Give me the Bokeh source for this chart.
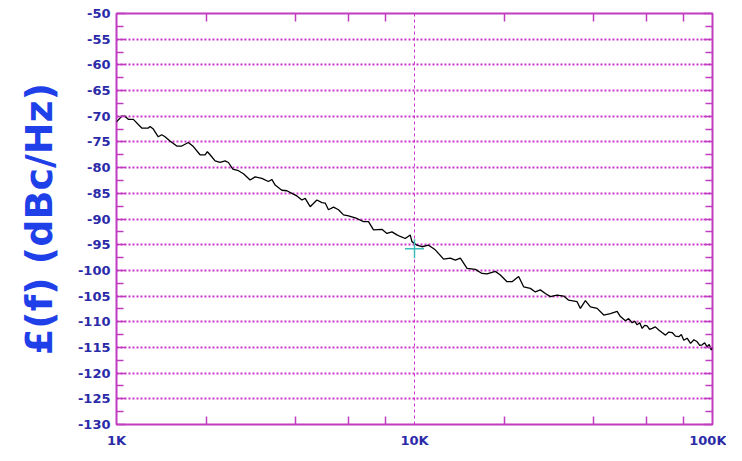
from bokeh.plotting import figure
from bokeh.models import Range1d, LinearAxis, LogAxis, FixedTicker, ColumnDataSource, Title
from bokeh.embed import file_html
from bokeh.resources import INLINE

# ---- data ----
freq_khz = [1.00, 1.041, 1.068, 1.095, 1.139, 1.215, 1.279, 1.296, 1.329, 1.381,
            1.418, 1.455, 1.512, 1.593, 1.656, 1.742, 1.811, 1.907, 1.983, 2.018,
            2.061, 2.142, 2.226, 2.314, 2.374, 2.457, 2.566, 2.667, 2.808, 2.919,
            3.074, 3.235, 3.321, 3.407, 3.588, 3.730, 3.877, 4.030, 4.188, 4.297,
            4.466, 4.704, 4.890, 5.016, 5.145, 5.348, 5.559, 5.778, 6.006, 6.407,
            6.743, 7.009, 7.286, 7.775, 8.081, 8.400, 8.731, 8.956, 9.309, 9.676,
            9.804, 10.19, 10.59, 11.15, 11.74, 12.52, 13.19, 13.71, 14.25, 15.01,
            16.00, 16.85, 17.52, 18.67, 19.41, 20.44, 21.25, 22.36, 23.24, 24.48,
            25.44, 26.44, 27.49, 28.57, 30.09, 31.67, 32.91, 35.12, 36.03, 37.45,
            38.93, 41.01, 43.15, 45.44, 47.86, 49.09, 51.03, 52.3, 53.74, 54.8,
            55.86, 57.0, 58.07, 59.2, 60.35, 61.5, 62.74, 64.3, 66.02, 67.7,
            69.53, 71.3, 73.23, 75.1, 77.08, 78.6, 80.12, 82.2, 84.38, 86.6,
            88.85, 90.6, 92.35, 94.1, 96.0, 97.5, 99.0, 100.0]
level_dbc = [-71.1, -70.0, -70.0, -70.6, -70.6, -72.3, -72.3, -72.0, -72.5, -74.0,
             -73.6, -74.0, -74.8, -75.8, -75.8, -75.1, -75.9, -77.5, -77.5, -76.9,
             -77.5, -78.7, -79.0, -78.7, -79.0, -80.3, -80.6, -81.2, -82.4, -81.8,
             -82.1, -82.7, -82.3, -83.4, -84.4, -84.5, -85.0, -85.5, -86.3, -86.0,
             -87.6, -86.3, -86.8, -86.9, -88.2, -87.7, -88.2, -89.2, -89.4, -89.9,
             -90.5, -90.5, -92.1, -92.0, -92.8, -92.5, -93.1, -93.4, -93.8, -93.1,
             -94.4, -95.1, -95.4, -95.1, -96.0, -97.8, -97.6, -98.0, -97.6, -99.6,
             -99.8, -100.6, -100.7, -100.2, -100.9, -102.2, -102.2, -101.2, -103.2, -103.5,
             -104.2, -103.8, -104.5, -105.1, -104.8, -105.0, -105.8, -106.1, -107.4, -105.9,
             -107.1, -107.4, -108.7, -108.4, -108.0, -109.0, -109.8, -109.4, -110.2, -109.9,
             -110.6, -110.2, -111.3, -110.7, -110.8, -111.5, -111.3, -111.0, -111.6, -112.1,
             -112.6, -112.0, -112.1, -112.8, -112.9, -112.5, -113.6, -113.2, -114.2, -113.5,
             -113.9, -114.6, -114.5, -114.1, -114.9, -114.4, -115.5, -115.0]

marker_freq_khz = [10.0]
marker_dbc = [-95.8]

x_tick_hz = [1000, 10000, 100000]
x_tick_labels = ["1K", "10K", "100K"]
x_minor_hz = [2000, 4000, 6000, 8000, 20000, 40000, 60000, 80000]
y_ticks = [-130, -125, -120, -115, -110, -105, -100, -95, -90, -85,
           -80, -75, -70, -65, -60, -55, -50]
y_minor = [-127.5, -122.5, -117.5, -112.5, -107.5, -102.5, -97.5, -92.5,
           -87.5, -82.5, -77.5, -72.5, -67.5, -62.5, -57.5, -52.5]
y_label = "£(f) (dBc/Hz)"

# ---- styles ----
MAG = "#c03cc0"
GRID = "#cc33cc"
TICKLBL = "#2b2ba8"
LBL = "#1f3fe8"

p = figure(width=726, height=453, x_axis_type="log",
           x_range=Range1d(1000, 100000), y_range=Range1d(-130, -50),
           output_backend="svg", toolbar_location=None,
           min_border_left=116, min_border_right=14,
           min_border_top=13, min_border_bottom=29)
p.background_fill_color = "white"
p.border_fill_color = "white"
p.outline_line_color = MAG
p.outline_line_width = 2

# bottom axis
xa = p.xaxis[0]
xa.ticker = FixedTicker(ticks=x_tick_hz, minor_ticks=x_minor_hz)
xa.major_label_overrides = {t: l for t, l in zip(x_tick_hz, x_tick_labels)}
xa.axis_line_color = None
xa.major_tick_in = 0
xa.major_tick_out = 0
xa.minor_tick_in = 8
xa.minor_tick_out = 0
xa.minor_tick_line_color = MAG
xa.minor_tick_line_width = 1.5
xa.major_label_standoff = 8
xa.major_label_text_font = "DejaVu Sans"
xa.major_label_text_font_style = "bold"
xa.major_label_text_font_size = "13px"
xa.major_label_text_color = TICKLBL

# left axis
ya = p.yaxis[0]
ya.ticker = FixedTicker(ticks=y_ticks, minor_ticks=y_minor)
ya.major_label_overrides = {t: str(t) for t in y_ticks}
ya.axis_line_color = None
ya.major_tick_in = 9
ya.major_tick_out = 0
ya.minor_tick_in = 7
ya.minor_tick_out = 0
ya.major_tick_line_color = MAG
ya.minor_tick_line_color = MAG
ya.major_tick_line_width = 1.5
ya.minor_tick_line_width = 1.5
ya.major_label_standoff = 6
ya.major_label_text_font = "DejaVu Sans"
ya.major_label_text_font_style = "bold"
ya.major_label_text_font_size = "13px"
ya.major_label_text_color = TICKLBL

# y-axis title in the left border
p.add_layout(Title(text=y_label, align="center", standoff=27, offset=7,
                   text_font="DejaVu Sans", text_font_style="bold",
                   text_font_size="38px", text_color=LBL), "left")

# right axis (ticks only)
ra = LinearAxis(ticker=FixedTicker(ticks=y_ticks, minor_ticks=y_minor),
                axis_line_color=None, major_tick_in=9, major_tick_out=0,
                minor_tick_in=7, minor_tick_out=0,
                major_tick_line_color=MAG, minor_tick_line_color=MAG,
                major_tick_line_width=1.5, minor_tick_line_width=1.5,
                major_label_text_font_size="0px", major_label_text_alpha=0)
p.add_layout(ra, "right")

# top axis (minor ticks only)
ta = LogAxis(ticker=FixedTicker(ticks=[], minor_ticks=x_minor_hz),
             axis_line_color=None, major_tick_in=0, major_tick_out=0,
             minor_tick_in=8, minor_tick_out=0,
             minor_tick_line_color=MAG, minor_tick_line_width=1.5,
             major_label_text_font_size="0px", major_label_text_alpha=0)
p.add_layout(ta, "above")

# grids
p.xgrid.ticker = FixedTicker(ticks=[10000])
p.xgrid.grid_line_color = GRID
p.xgrid.grid_line_dash = "3 3"
p.xgrid.grid_line_width = 1
p.ygrid.ticker = FixedTicker(ticks=y_ticks)
p.ygrid.grid_line_color = GRID
p.ygrid.grid_line_dash = "2 2"
p.ygrid.grid_line_width = 2

src = ColumnDataSource(dict(f=[f * 1000 for f in freq_khz], l=level_dbc))
p.line("f", "l", source=src, line_color="black", line_width=1.3)

msrc = ColumnDataSource(dict(f=[f * 1000 for f in marker_freq_khz], l=marker_dbc))
p.scatter("f", "l", source=msrc, marker="cross", size=19,
          line_color="#3cbcbc", line_width=1.5)

open("out.html", "w").write(file_html(p, INLINE))
